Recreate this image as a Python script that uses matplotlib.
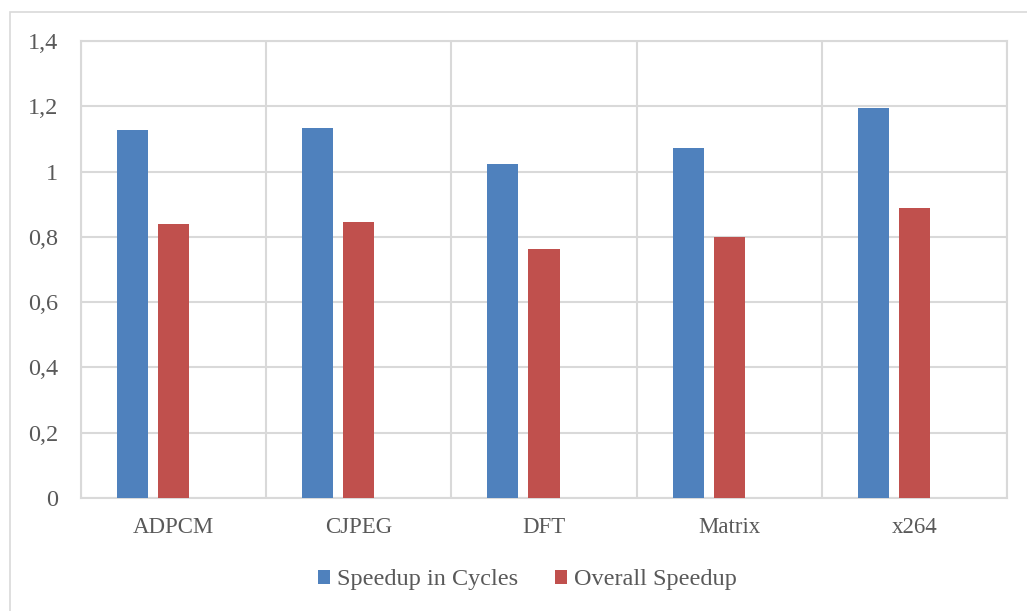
import matplotlib.pyplot as plt
from matplotlib.patches import Rectangle
import numpy as np

benchmarks = ['ADPCM', 'CJPEG', 'DFT', 'Matrix', 'x264']
speedup_cycles = [1.127, 1.134, 1.023, 1.072, 1.195]
overall_speedup = [0.839, 0.846, 0.763, 0.800, 0.888]
ytick_labels = ['0', '0,2', '0,4', '0,6', '0,8', '1', '1,2', '1,4']

W, H = 1027, 611
plt.rcParams['font.family'] = ['Liberation Serif', 'DejaVu Serif']
txt = '#595959'
grid = '#d9d9d9'

fig = plt.figure(figsize=(W / 100, H / 100), dpi=100)
# outer chart frame
fig.patches.append(Rectangle((10 / W, -0.1), 1.1, 1 - 12 / H + 0.1,
                             transform=fig.transFigure, fill=False,
                             edgecolor=grid, lw=1.2))

L, R, T, B = 81, 1007, 41, 498
ax = fig.add_axes([L / W, 1 - B / H, (R - L) / W, (B - T) / H])
x = np.arange(len(benchmarks))
w = 31 / 185
step = 41 / 185
ax.bar(x - step, speedup_cycles, w, color='#4F81BD', label='Speedup in Cycles', zorder=3)
ax.bar(x, overall_speedup, w, color='#C0504D', label='Overall Speedup', zorder=3)

ax.set_xlim(-0.5, len(benchmarks) - 0.5)
ax.set_ylim(0, 1.4)
ax.set_yticks(np.arange(0, 1.41, 0.2))
ax.set_yticklabels(ytick_labels)
ax.set_xticks(x)
ax.set_xticklabels(benchmarks)
ax.tick_params(length=0, colors=txt)
ax.tick_params(axis='y', pad=16.5, labelsize=17.5)
ax.tick_params(axis='x', pad=14, labelsize=16.5)
for lbl in ax.get_xticklabels() + ax.get_yticklabels():
    lbl.set_color(txt)

# vertical lines between categories, horizontal value grid
for b in np.arange(-0.5, len(benchmarks), 1.0):
    ax.axvline(b, color=grid, lw=1.5, zorder=1)
ax.yaxis.grid(True, color=grid, lw=1.5, zorder=1)
for s in ax.spines.values():
    s.set_color(grid)
    s.set_linewidth(1.5)

ax.legend(loc='center', bbox_to_anchor=((527.5 - L) / (R - L), (B - 580) / (B - T)),
          ncol=2, frameon=False, fontsize=17.5, labelcolor=txt,
          handlelength=0.5, handleheight=0.5, handletextpad=0.3,
          columnspacing=1.5)

fig.savefig('out.png', dpi=100)
